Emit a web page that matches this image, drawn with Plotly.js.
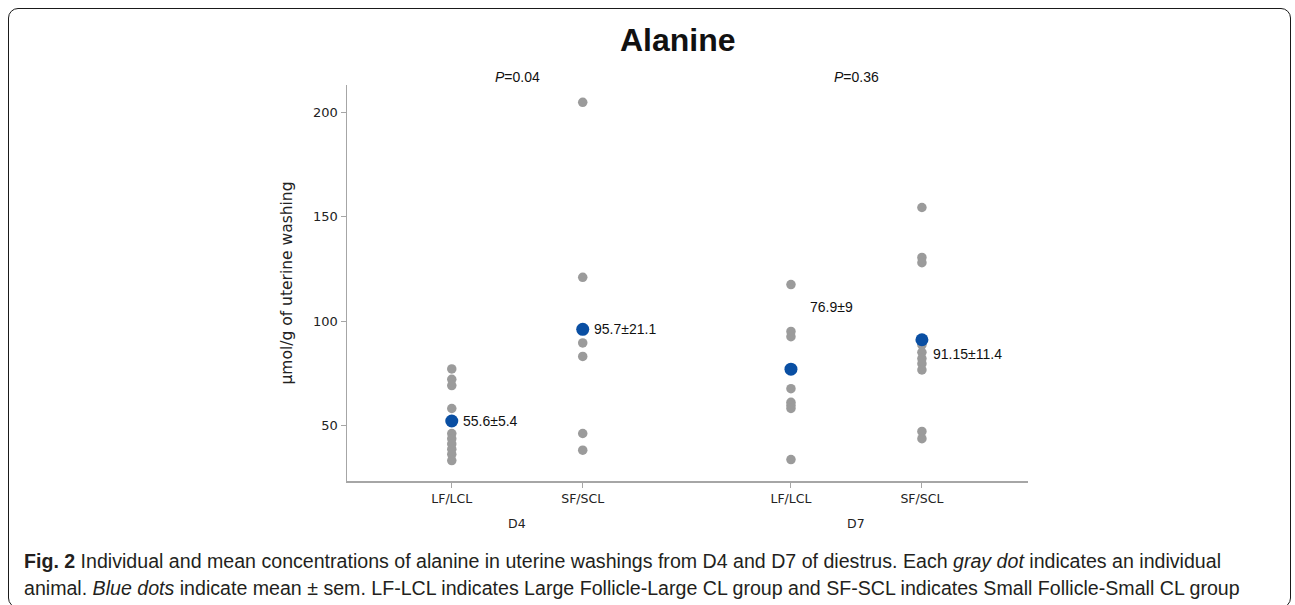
<!DOCTYPE html>
<html>
<head>
<meta charset="utf-8">
<script src="https://cdn.plot.ly/plotly-3.0.1.min.js"></script>
<style>
  html, body { margin: 0; padding: 0; background: #fff; }
  #wrap { position: relative; width: 1295px; height: 605px; overflow: hidden; }
  #frame { position: absolute; left: 8px; top: 8px; width: 1283px; height: 600px;
           border: 1.6px solid #1a1a1a; border-radius: 10px; box-sizing: border-box; }
  #chart { position: absolute; left: 0; top: 0; width: 1295px; height: 605px; }
</style>
</head>
<body>
<div id="wrap">
  <div id="frame"></div>
  <div id="chart"></div>
</div>
<script>
// ---- data ----
const groups = ["D4", "D7"];
const subgroups = ["LF/LCL", "SF/SCL"];
const pValues = ["0.04", "0.36"];
const d4_lf = [77, 72, 69, 58, 46, 43.5, 41, 38.5, 36, 33];
const d4_sf = [205, 121, 89.5, 83, 46, 38];
const d7_lf = [117.5, 95, 92.5, 67.5, 61, 59.5, 58, 33.5];
const d7_sf = [154.5, 130.5, 128, 88.5, 85, 82, 79.5, 76.5, 47, 43.5];
const means = [52, 96, 76.9, 91];
const meanLabels = ["55.6±5.4", "95.7±21.1", "76.9±9", "91.15±11.4"];
const yTicks = [50, 100, 150, 200];

// ---- layout helpers ----
const groupGap = 2.59;
const W = 1295, H = 605;
const M = { l: 347, r: 267, t: 85, b: 124 };
const pw = W - M.l - M.r, ph = H - M.t - M.b;
const px = x => (x - M.l) / pw;
const py = y => (H - M.b - y) / ph;

const individual = [d4_lf, d4_sf, d7_lf, d7_sf];
const catPos = [], catText = [];
groups.forEach((g, gi) => subgroups.forEach((s, si) => {
  catPos.push(gi * groupGap + si);
  catText.push(s);
}));

const xs = [], ys = [];
individual.forEach((arr, i) => arr.forEach(v => { xs.push(catPos[i]); ys.push(v); }));

const traces = [
  { type: "scatter", mode: "markers", x: xs, y: ys, cliponaxis: false,
    marker: { color: "#9b9b9b", size: 9.5, line: { width: 0 } }, hoverinfo: "y" },
  { type: "scatter", mode: "markers", x: catPos, y: means, cliponaxis: false,
    marker: { color: "#0a4fa3", size: 13, line: { width: 0 } }, hoverinfo: "y" }
];

const labelShift = [[9, 0], [9, 0], [17, 62], [9, -14]];
const annotations = [];
meanLabels.forEach((t, i) => {
  annotations.push({ x: catPos[i], y: means[i], xref: "x", yref: "y", text: t,
    showarrow: false, xanchor: "left", yanchor: "middle",
    xshift: labelShift[i][0], yshift: labelShift[i][1],
    font: { family: "Liberation Sans, Arial", size: 14, color: "#111" } });
});
groups.forEach((g, gi) => {
  const mid = gi * groupGap + (subgroups.length - 1) / 2;
  annotations.push({ x: mid, y: py(523), xref: "x", yref: "paper", text: g,
    showarrow: false, xanchor: "center", yanchor: "middle",
    font: { family: "DejaVu Sans", size: 12.5, color: "#222" } });
  annotations.push({ x: mid, y: py(77), xref: "x", yref: "paper",
    text: "<i>P</i>=" + pValues[gi],
    showarrow: false, xanchor: "center", yanchor: "middle",
    font: { family: "Liberation Sans, Arial", size: 14, color: "#111" } });
});
annotations.push({ x: px(678), y: py(40), xref: "paper", yref: "paper", text: "<b>Alanine</b>",
  showarrow: false, xanchor: "center", yanchor: "middle",
  font: { family: "Liberation Sans, Arial", size: 32, color: "#111" } });
const capFont = { family: "Liberation Sans, Arial", size: 19.6, color: "#231f20" };
annotations.push({ x: px(22), y: py(561), xref: "paper", yref: "paper",
  text: "<b>Fig. 2</b> Individual and mean concentrations of alanine in uterine washings from D4 and D7 of diestrus. Each <i>gray dot</i> indicates an individual",
  showarrow: false, xanchor: "left", yanchor: "middle", font: capFont });
annotations.push({ x: px(22), y: py(588), xref: "paper", yref: "paper",
  text: "animal. <i>Blue dots</i> indicate mean ± sem. LF-LCL indicates Large Follicle-Large CL group and SF-SCL indicates Small Follicle-Small CL group",
  showarrow: false, xanchor: "left", yanchor: "middle", font: capFont });

const layout = {
  width: W, height: H,
  margin: M,
  paper_bgcolor: "rgba(0,0,0,0)", plot_bgcolor: "rgba(0,0,0,0)",
  showlegend: false,
  xaxis: { range: [-0.8, 4.4], tickvals: catPos, ticktext: catText,
    showgrid: false, zeroline: false, showline: true, linecolor: "#a6a6a6", linewidth: 1.5,
    ticks: "outside", ticklen: 5, tickcolor: "#a6a6a6", tickwidth: 1,
    tickfont: { family: "DejaVu Sans", size: 12.5, color: "#222" }, fixedrange: true },
  yaxis: { range: [23.2, 213.3], tickvals: yTicks, ticktext: yTicks.map(String),
    showgrid: false, zeroline: false, showline: true, linecolor: "#a6a6a6", linewidth: 1.5,
    ticks: "outside", ticklen: 5, tickcolor: "#a6a6a6", tickwidth: 1,
    tickfont: { family: "DejaVu Sans", size: 13, color: "#222" },
    title: { text: "µmol/g of uterine washing", standoff: 16,
      font: { family: "DejaVu Sans", size: 15.5, color: "#222" } }, fixedrange: true },
  annotations: annotations
};

Plotly.newPlot("chart", traces, layout, { displayModeBar: false, staticPlot: true });
</script>
</body>
</html>
